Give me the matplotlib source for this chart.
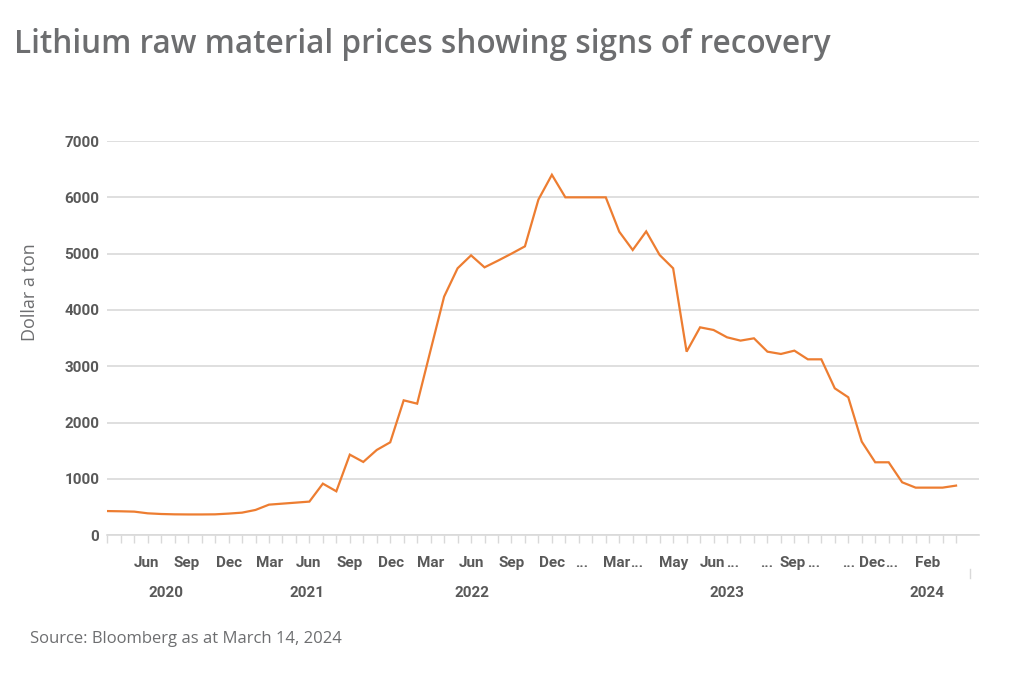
"""Lithium raw material prices, May 2020 - March 2024."""

import matplotlib.pyplot as plt
import numpy as np

# Price in dollars a ton, one value per category on the x axis
prices = [
    430, 426, 420, 390, 378, 372, 370, 370, 372, 385,
    402, 450, 544, 562, 580, 598, 917, 781, 1432, 1302,
    1515, 1651, 2396, 2337, 3290, 4237, 4740, 4970, 4757, 4876,
    5000, 5130, 5960, 6400, 6000, 6000, 6000, 6000, 5390, 5065,
    5395, 4976, 4740, 3260, 3692, 3645, 3515, 3456, 3497, 3260,
    3219, 3278, 3124, 3124, 2609, 2450, 1663, 1296, 1296, 941,
    846, 846, 846, 882,
]

# Month level of the category axis (label, category position)
month_labels = ["Jun", "Sep", "Dec", "Mar", "Jun", "Sep", "Dec", "Mar", "Jun",
                "Sep", "Dec", "...", "Mar", "...", "May", "Jun", "...", "...",
                "Sep", "...", "...", "Dec", "...", "Feb"]
month_pos = [2.92, 5.89, 9.05, 12.08, 14.93, 17.97, 21.04, 24.0, 27.03,
             30.0, 33.04, 35.2, 37.8, 39.3, 42.0, 44.9, 46.4, 48.97,
             50.9, 52.4, 55.0, 56.8, 58.2, 60.9]

# Year level of the category axis
year_labels = ["2020", "2021", "2022", "2023", "2024"]
year_pos = [4.33, 14.83, 27.05, 45.98, 60.85]

GRID = "#d9d9d9"
TEXT = "#595959"
NARROW = ["Roboto", "DejaVu Sans"]
BODY = ["Open Sans", "DejaVu Sans"]

fig = plt.figure(figsize=(10.24, 6.74), dpi=100)
ax = fig.add_axes([0.1048, 0.2058, 0.8512, 0.585])

x = np.arange(len(prices))
ax.plot(x, prices, color="#ed7d31", lw=1.6, solid_joinstyle="miter")

ax.set_xlim(0, 64.7)
ax.set_ylim(0, 7000)
ax.set_yticks(np.arange(0, 7001, 1000))
ax.set_xticks(x)
ax.set_xticklabels([])
ax.grid(axis="y", color=GRID, lw=1.2)
ax.set_axisbelow(True)

for side in ("top", "right", "left"):
    ax.spines[side].set_visible(False)
ax.spines["bottom"].set_color(GRID)
ax.spines["bottom"].set_linewidth(1.2)
ax.tick_params(axis="x", length=5.8, width=1, color=GRID)
ax.tick_params(axis="y", length=0, pad=5.8, labelcolor=TEXT, labelsize=11)
for lbl in ax.get_yticklabels():
    lbl.set_family(NARROW)
    lbl.set_fontweight("bold")

tr = ax.get_xaxis_transform()
for lab, pos in zip(month_labels, month_pos):
    ax.text(pos, -0.0812, lab, transform=tr, ha="center", va="baseline",
            fontsize=11, fontweight="bold", color=TEXT, family=NARROW)
for lab, pos in zip(year_labels, year_pos):
    ax.text(pos, -0.1557, lab, transform=tr, ha="center", va="baseline",
            fontsize=11, fontweight="bold", color=TEXT, family=NARROW)
# small divider closing the last year group
ax.plot([64, 64], [-0.085, -0.108], transform=tr, color=GRID, lw=1,
        clip_on=False)

ax.set_ylabel("Dollar a ton", fontsize=13, color="#6d6e70", family=BODY)
ax.yaxis.set_label_coords(-0.0784, 0.617)

fig.text(0.0137, 0.921, "Lithium raw material prices showing signs of recovery",
         fontsize=22.7, fontweight="semibold", color="#6d6e70",
         family=BODY, va="baseline")
fig.text(0.029, 0.0455, "Source: Bloomberg as at March 14, 2024",
         fontsize=12, color="#6d6e70", family=BODY, va="baseline")

fig.savefig("out.png", dpi=100)
